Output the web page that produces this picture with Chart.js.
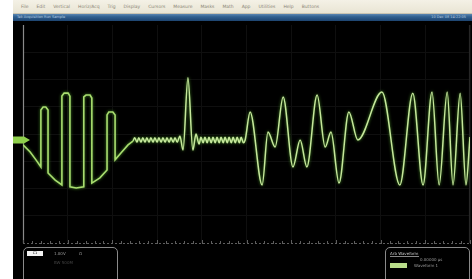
<!DOCTYPE html>
<html>
<head>
<meta charset="utf-8">
<script src="https://cdn.jsdelivr.net/npm/chart.js@4"></script>
<style>
  body { margin: 0; background: #fff; width: 472px; height: 279px; overflow: hidden; font-family: "DejaVu Sans", sans-serif; }
  #menu { position: absolute; left: 13px; top: 0; width: 459px; height: 13px; background: linear-gradient(#f4f1e6, #e9e5d4); border-bottom: 1px solid #c9c4b2; font-size: 4.5px; color: #8a8676; white-space: nowrap; }
  #menu span { display: inline-block; margin: 4px 0 0 8px; }
  #title { position: absolute; left: 13px; top: 14px; width: 459px; height: 7px; background: linear-gradient(#5b86b2, #30608f 40%, #1d4470); font-size: 3.5px; color: #b8cce0; white-space: nowrap; }
  #screen { position: absolute; left: 13px; top: 21px; width: 459px; height: 258px; background: #000; overflow: hidden; }
  canvas { position: absolute; left: 0; top: 0; }
  .panel { position: absolute; top: 226px; height: 44px; border: 1.5px solid #8a8a8a; border-radius: 5px; font-size: 4px; color: #9a9a9a; white-space: nowrap; }
  .panel span { position: absolute; }
</style>
</head>
<body>
<div id="menu"><span>File</span><span>Edit</span><span>Vertical</span><span>Horiz/Acq</span><span>Trig</span><span>Display</span><span>Cursors</span><span>Measure</span><span>Masks</span><span>Math</span><span>App</span><span>Utilities</span><span>Help</span><span>Buttons</span></div>
<div id="title"><span style="position:absolute;left:4px;top:1px">Tek  Acquisition  Run  Sample</span><span style="position:absolute;right:6px;top:1px">10 Dec 08  14:22:05</span></div>
<div id="screen">
  <canvas id="scope" width="459" height="258"></canvas>
  <div class="panel" style="left:10px;width:93px">
    <span style="left:3px;top:3px;width:16px;height:5px;background:#f2f2f2;color:#000;font-size:3.5px;line-height:5px;text-align:center">C1</span>
    <span style="left:30px;top:3px">1.00V</span>
    <span style="left:55px;top:3px">Ω</span>
    <span style="left:30px;top:12px;color:#444">BW 500M</span>
  </div>
  <div class="panel" style="left:372px;width:83px">
    <span style="left:4px;top:3px;color:#c8c8c8;border-bottom:1px solid #888">Arb Waveform</span>
    <span style="left:34px;top:9px">0.00000 µs</span>
    <span style="left:4px;top:15px;width:17px;height:5px;background:#b9dd8a"></span>
    <span style="left:28px;top:15px">Waveform 1</span>
  </div>
</div>
<script>
// tiempo en divisiones (10 div en pantalla), tension en divisiones verticales
const pulseTime = [0, 0.16, 0.29, 0.40, 0.40, 0.45, 0.51, 0.56, 0.56, 0.72, 0.87,
  0.87, 0.92, 1.01, 1.05, 1.05, 1.19, 1.36, 1.36, 1.41, 1.50, 1.54, 1.54, 1.72, 1.88,
  1.88, 1.92, 2.01, 2.06, 2.06, 2.21, 2.35, 2.46];
const pulseVolts = [-0.18, -0.44, -0.73, -0.99, 1.10, 1.21, 1.21, 1.10, -1.21, -1.47, -1.65,
  1.61, 1.72, 1.72, 1.61, -1.72, -1.76, -1.72, 1.58, 1.65, 1.65, 1.54, -1.58, -1.39, -1.10,
  0.92, 1.03, 1.03, 0.92, -0.73, -0.44, -0.18, -0.04];

const chirpTime = [2.46, 2.50, 2.55, 2.59, 2.64, 2.68, 2.73, 2.77, 2.82, 2.86, 2.91, 2.95,
  3.00, 3.04, 3.09, 3.13, 3.18, 3.22, 3.27, 3.31, 3.36, 3.40, 3.45,
  3.51, 3.58, 3.69, 3.80, 3.87, 3.94,
  3.98, 4.03, 4.07, 4.12, 4.16, 4.21, 4.25, 4.30, 4.34, 4.39, 4.43, 4.48,
  4.52, 4.57, 4.61, 4.66, 4.70, 4.75, 4.79, 4.84, 4.88, 4.93, 4.97,
  5.08, 5.35, 5.48, 5.64, 5.82, 6.04, 6.20, 6.35, 6.58, 6.76, 6.89, 7.07, 7.29, 7.49,
  8.03, 8.43, 8.72, 8.95, 9.15, 9.31, 9.49, 9.62, 9.78, 9.91, 10.0];
const chirpVolts = [-0.04, 0.08, -0.08, 0.08, -0.08, 0.08, -0.08, 0.08, -0.08, 0.08, -0.08, 0.08,
  -0.08, 0.08, -0.08, 0.08, -0.08, 0.08, -0.08, 0.08, -0.08, 0.08, -0.08,
  0.15, -0.37, 2.28, -0.37, 0.22, -0.15,
  0.10, -0.10, 0.10, -0.10, 0.10, -0.10, 0.10, -0.10, 0.10, -0.10, 0.10, -0.10,
  0.10, -0.10, 0.10, -0.10, 0.10, -0.10, 0.10, -0.10, 0.10, -0.10, 0,
  1.03, -1.65, 0.29, -0.26, 1.58, -0.99, 0, -0.99, 1.65, -0.26, 0.29, -1.58, 1.03, 0,
  1.76, -1.65, 1.72, -1.65, 1.76, -1.65, 1.76, -1.65, 1.72, -1.65, 0.11];

const yMin = -3.78, yMax = 4.22;

function puntos(t, v) {
  return t.map((x, i) => ({ x: x, y: v[i] }));
}

// reticula, marcador de canal y brillo del trazo
const osciloscopio = {
  id: 'osciloscopio',
  beforeDatasetsDraw(chart) {
    const { ctx, chartArea: a, scales } = chart;
    ctx.save();
    ctx.strokeStyle = '#8a8a8a';
    ctx.lineWidth = 1.2;
    ctx.beginPath();
    ctx.moveTo(a.left + 0.5, a.top);
    ctx.lineTo(a.left + 0.5, a.bottom);
    ctx.stroke();
    ctx.strokeStyle = '#262626';
    ctx.beginPath();
    ctx.moveTo(a.right - 0.5, a.top);
    ctx.lineTo(a.right - 0.5, a.bottom);
    ctx.stroke();
    // eje inferior punteado con marcas
    ctx.strokeStyle = '#5e5e5e';
    ctx.lineWidth = 1;
    ctx.setLineDash([2, 2]);
    ctx.beginPath();
    ctx.moveTo(a.left, a.bottom + 0.5);
    ctx.lineTo(a.right, a.bottom + 0.5);
    ctx.stroke();
    ctx.setLineDash([]);
    for (let k = 0; k <= 50; k++) {
      const x = Math.round(scales.x.getPixelForValue(k / 5)) + 0.5;
      const h = k % 5 === 0 ? 3 : 2;
      ctx.beginPath();
      ctx.moveTo(x, a.bottom - h);
      ctx.lineTo(x, a.bottom + 1);
      ctx.stroke();
    }
    // marcador de nivel 0
    const y0 = scales.y.getPixelForValue(0);
    ctx.fillStyle = '#8fd04c';
    ctx.beginPath();
    ctx.moveTo(0, y0 - 3.5);
    ctx.lineTo(11, y0 - 3.5);
    ctx.lineTo(17, y0);
    ctx.lineTo(11, y0 + 3.5);
    ctx.lineTo(0, y0 + 3.5);
    ctx.closePath();
    ctx.fill();
    ctx.restore();
    ctx.shadowColor = '#4f9a2a';
    ctx.shadowBlur = 3;
  },
  afterDatasetsDraw(chart) {
    chart.ctx.shadowColor = 'transparent';
    chart.ctx.shadowBlur = 0;
  }
};

const ejeGrid = { color: '#0f0f0f', lineWidth: 1, drawTicks: false };

new Chart(document.getElementById('scope'), {
  type: 'line',
  data: {
    datasets: [
      {
        data: puntos(pulseTime, pulseVolts),
        borderColor: '#a9dc70',
        borderWidth: 1.6,
        pointRadius: 0,
        tension: 0
      },
      {
        data: puntos(chirpTime, chirpVolts),
        borderColor: '#c6e79c',
        borderWidth: 1.5,
        pointRadius: 0,
        cubicInterpolationMode: 'monotone'
      }
    ]
  },
  options: {
    responsive: false,
    animation: false,
    devicePixelRatio: 1,
    layout: { padding: { left: 10, right: 2, top: 4, bottom: 36 } },
    plugins: { legend: { display: false }, tooltip: { enabled: false } },
    scales: {
      x: {
        type: 'linear', min: 0, max: 10,
        ticks: { display: false, stepSize: 1 },
        grid: ejeGrid,
        border: { display: false }
      },
      y: {
        min: yMin, max: yMax,
        afterBuildTicks: s => { s.ticks = [1, 2, 3, 4, 5, 6, 7].map(k => ({ value: yMin + k })); },
        ticks: { display: false },
        grid: ejeGrid,
        border: { display: false }
      }
    }
  },
  plugins: [osciloscopio]
});
</script>
</body>
</html>
